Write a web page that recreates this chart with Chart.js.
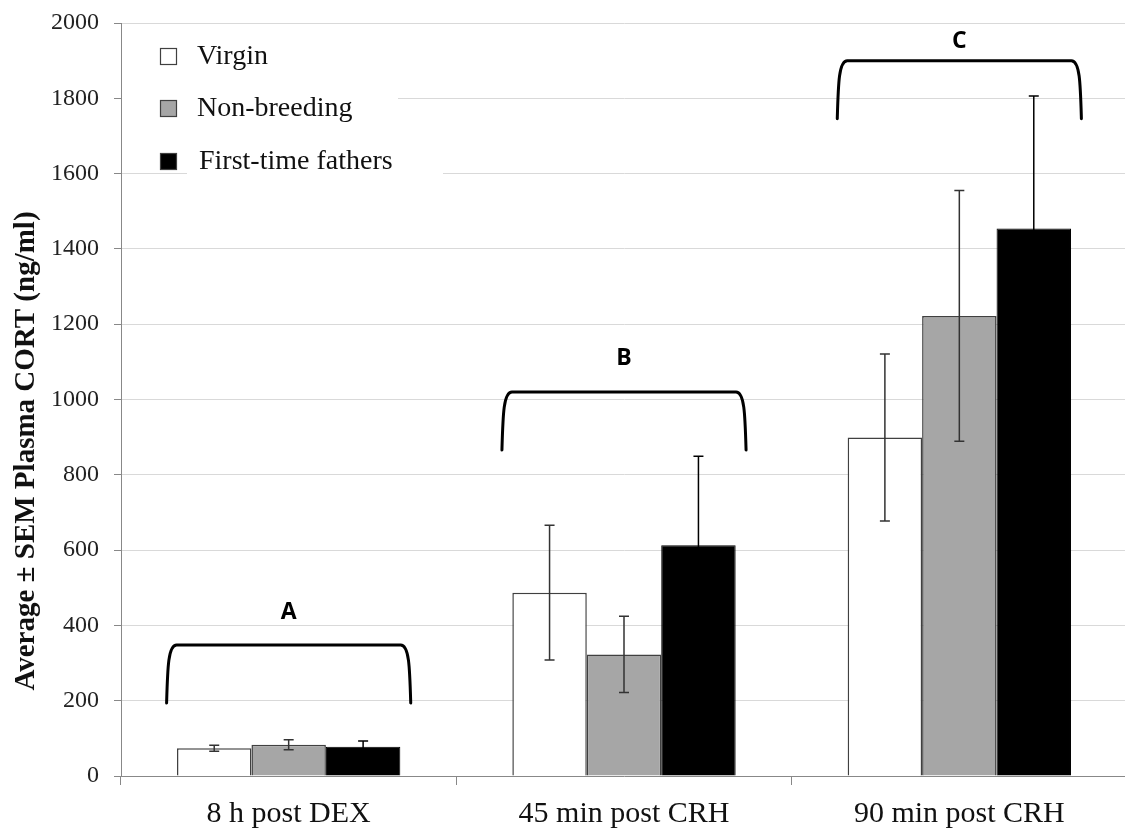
<!DOCTYPE html>
<html>
<head>
<meta charset="utf-8">
<script src="https://cdn.jsdelivr.net/npm/chart.js@4/dist/chart.umd.min.js"></script>
<style>
  html, body { margin: 0; padding: 0; background: #fff; overflow: hidden; }
  #wrap { width: 1130px; height: 833px; }
</style>
</head>
<body>
<div id="wrap"><canvas id="cort" width="1130" height="833"></canvas></div>
<script>
// plasma CORT by condition (mean and SEM, ng/ml)
var categories = ["8 h post DEX", "45 min post CRH", "90 min post CRH"];
var seriesNames = ["Virgin", "Non-breeding", "First-time fathers"];
var virgin = [74, 487, 899];
var virginSem = [8, 179, 222];
var nonBreeding = [83, 323, 1222];
var nonBreedingSem = [13, 101, 333];
var fathers = [78, 613, 1454];
var fathersSem = [15, 236, 352];
var groupLetters = ["A", "B", "C"];
var yTicks = [0, 200, 400, 600, 800, 1000, 1200, 1400, 1600, 1800, 2000];
var yTitle = "Average \u00b1 SEM Plasma CORT (ng/ml)";

var serif = "'Liberation Serif', 'Times New Roman', serif";
var sems = [virginSem, nonBreedingSem, fathersSem];
var errColors = ["#333", "#333", "#000"];

// error bars on top of each bar
var errorBars = {
  id: "errorBars",
  afterDatasetsDraw: function (chart) {
    var ctx = chart.ctx, y = chart.scales.y;
    ctx.save();
    ctx.lineWidth = 1.5;
    chart.data.datasets.forEach(function (ds, i) {
      ctx.strokeStyle = errColors[i];
      chart.getDatasetMeta(i).data.forEach(function (bar, j) {
        var v = ds.data[j], e = sems[i][j];
        var top = y.getPixelForValue(v + e), bot = y.getPixelForValue(v - e);
        ctx.beginPath();
        ctx.moveTo(bar.x, top); ctx.lineTo(bar.x, bot);
        ctx.moveTo(bar.x - 5, top); ctx.lineTo(bar.x + 5, top);
        ctx.moveTo(bar.x - 5, bot); ctx.lineTo(bar.x + 5, bot);
        ctx.stroke();
      });
    });
    ctx.restore();
  }
};

// brackets with group letters over each condition
var brackets = {
  id: "brackets",
  afterDraw: function (chart, args, opts) {
    var ctx = chart.ctx, x = chart.scales.x, y = chart.scales.y;
    var step = x.getPixelForValue(1) - x.getPixelForValue(0);
    ctx.save();
    ctx.strokeStyle = "#000";
    ctx.lineWidth = 3;
    ctx.lineCap = "round";
    opts.tops.forEach(function (t, j) {
      var cx = x.getPixelForValue(j);
      var x0 = cx - step * 0.364, x1 = cx + step * 0.364;
      var yt = y.getPixelForValue(t), yb = y.getPixelForValue(t - opts.leg);
      var h = yb - yt;
      ctx.beginPath();
      ctx.moveTo(x0, yb);
      ctx.bezierCurveTo(x0 + 1, yt + h * 0.4, x0 + 1.5, yt, x0 + 10, yt);
      ctx.lineTo(x1 - 10, yt);
      ctx.bezierCurveTo(x1 - 1.5, yt, x1 - 1, yt + h * 0.4, x1, yb);
      ctx.stroke();
      ctx.fillStyle = "#000";
      ctx.font = "bold 23px 'Open Sans', 'Liberation Sans', sans-serif";
      ctx.textAlign = "center";
      ctx.textBaseline = "middle";
      ctx.fillText(groupLetters[j], cx, yt - opts.letterGap[j]);
    });
    ctx.restore();
  }
};

// legend boxes inside the plot, top left, plus the rotated y title
var boxLegend = {
  id: "boxLegend",
  afterDraw: function (chart) {
    var ctx = chart.ctx;
    ctx.save();
    ctx.fillStyle = "#fff";
    ctx.fillRect(122, 34, 276, 100);
    ctx.fillRect(187, 134, 256, 50);
    var rows = [56, 108, 161];
    chart.data.datasets.forEach(function (ds, i) {
      var cy = rows[i];
      ctx.fillStyle = ds.backgroundColor;
      ctx.fillRect(160, cy - 8, 17, 17);
      ctx.strokeStyle = "#404040";
      ctx.lineWidth = 1.2;
      ctx.strokeRect(160.5, cy - 7.5, 16, 16);
      ctx.fillStyle = "#111";
      ctx.font = "28px " + serif;
      ctx.textAlign = "left";
      ctx.textBaseline = "alphabetic";
      ctx.fillText(ds.label, 197 + (i == 2 ? 2 : 0), cy + 8);
    });

    ctx.translate(27, 451);
    ctx.rotate(-Math.PI / 2);
    ctx.fillStyle = "#111";
    ctx.font = "bold 29px " + serif;
    ctx.textAlign = "center";
    ctx.textBaseline = "middle";
    ctx.fillText(yTitle, 0, 0);
    ctx.restore();
  }
};

new Chart(document.getElementById("cort"), {
  type: "bar",
  data: {
    labels: categories,
    datasets: [
      { label: seriesNames[0], data: virgin, backgroundColor: "#ffffff", borderColor: "#404040", borderWidth: 1.5 },
      { label: seriesNames[1], data: nonBreeding, backgroundColor: "#a6a6a6", borderColor: "#404040", borderWidth: 1.5 },
      { label: seriesNames[2], data: fathers, backgroundColor: "#000000", borderColor: "#000000", borderWidth: 1 }
    ]
  },
  options: {
    responsive: false,
    animation: false,
    layout: { padding: { top: 23, right: 3, left: 0, bottom: 0 } },
    datasets: { bar: { categoryPercentage: 0.666, barPercentage: 1 } },
    plugins: {
      legend: { display: false },
      tooltip: { enabled: false },
      brackets: { tops: [348, 1020, 1900], leg: 154, letterGap: [33, 34, 19] }
    },
    scales: {
      x: {
        grid: { offset: true, drawOnChartArea: false, tickLength: 9, tickColor: "#888" },
        border: { color: "#888", width: 1 },
        ticks: { color: "#111", font: { family: serif, size: 30 }, padding: 11 },
        afterFit: function (s) { s.height = 57; s.paddingLeft = 0; s.paddingRight = 0; }
      },
      y: {
        min: 0,
        max: 2000,
        afterBuildTicks: function (s) { s.ticks = yTicks.map(function (v) { return { value: v }; }); },
        grid: { color: "#d9d9d9", tickColor: "#888", tickLength: 7 },
        border: { color: "#888", width: 1 },
        ticks: {
          color: "#222",
          font: { family: serif, size: 24 },
          padding: 15,
          callback: function (v) { return String(v); }
        },
        afterFit: function (s) { s.width = 121; s.paddingTop = 0; s.paddingBottom = 0; }
      }
    }
  },
  plugins: [errorBars, brackets, boxLegend]
});
</script>
</body>
</html>
